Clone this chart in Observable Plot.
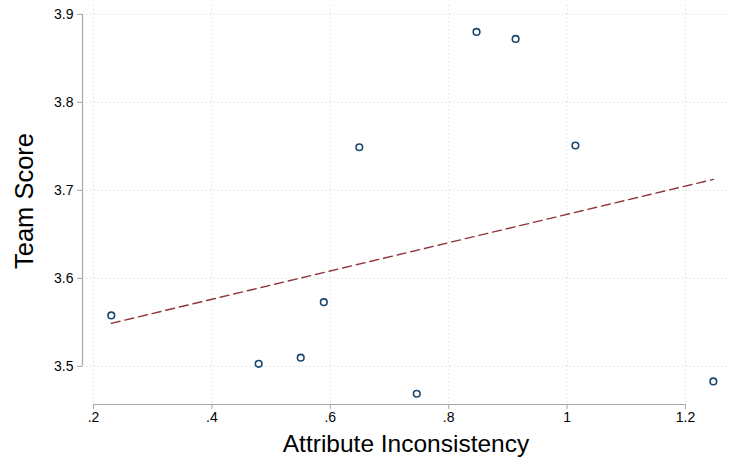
<!DOCTYPE html>
<html>
<head>
<meta charset="utf-8">
<script src="https://cdn.jsdelivr.net/npm/d3@7"></script>
<script src="https://cdn.jsdelivr.net/npm/@observablehq/plot@0.6"></script>
<style>
  html, body { margin: 0; padding: 0; background: #fff; }
  #chart svg { display: block; }
</style>
</head>
<body>
<div id="chart"></div>
<script>
// Data
const inconsistency = [0.230, 0.479, 0.550, 0.589, 0.649, 0.746, 0.847, 0.913, 1.014, 1.247];
const teamScore     = [3.558, 3.503, 3.510, 3.573, 3.749, 3.469, 3.880, 3.872, 3.751, 3.483];

// Fitted line endpoints (as drawn)
const fitX = [0.230, 1.247];
const fitY = [3.549, 3.7125];

// Ticks and labels
const xTicks = [0.2, 0.4, 0.6, 0.8, 1.0, 1.2];
const xTickLabels = [".2", ".4", ".6", ".8", "1", "1.2"];
const yTicks = [3.5, 3.6, 3.7, 3.8, 3.9];
const yTickLabels = ["3.5", "3.6", "3.7", "3.8", "3.9"];

const xTitle = "Attribute Inconsistency";
const yTitle = "Team Score";

const points = inconsistency.map((x, i) => ({x, y: teamScore[i]}));
const fit = fitX.map((x, i) => ({x, y: fitY[i]}));

const xDomain = [0.1814, 1.2743];
const yDomain = [3.4568, 3.910];

const gridColor = "#d4d4d4";
const axisColor = "#a8a8a8";

const chart = Plot.plot({
  width: 733,
  height: 464,
  marginLeft: 82,
  marginRight: 4,
  marginTop: 5,
  marginBottom: 60,
  style: {fontFamily: "'Liberation Sans', Arial, Helvetica, sans-serif", background: "#fff", color: "#000"},
  x: {domain: xDomain},
  y: {domain: yDomain},
  marks: [
    Plot.gridY(yTicks, {stroke: gridColor, strokeOpacity: 1, strokeDasharray: "1,3"}),
    Plot.gridX(xTicks, {stroke: gridColor, strokeOpacity: 1, strokeDasharray: "1,3"}),
    Plot.ruleX([xDomain[0]], {y1: yTicks[0], y2: yTicks[yTicks.length - 1], stroke: axisColor, strokeWidth: 1.2}),
    Plot.ruleY([yDomain[0]], {x1: xTicks[0], x2: xTicks[xTicks.length - 1], stroke: axisColor, strokeWidth: 1.2}),
    Plot.axisY(yTicks, {
      tickFormat: (d, i) => yTickLabels[i],
      tickSize: 5, tickPadding: 4, fontSize: 14,
      stroke: axisColor, fill: "#000", label: null
    }),
    Plot.axisX(xTicks, {
      tickFormat: (d, i) => xTickLabels[i],
      tickSize: 5, tickPadding: 3, fontSize: 14,
      stroke: axisColor, fill: "#000", label: null
    }),
    Plot.line(fit, {x: "x", y: "y", stroke: "#90353b", strokeWidth: 1.4, strokeDasharray: "9,5"}),
    Plot.dot(points, {x: "x", y: "y", r: 3.3, stroke: "#1a476f", strokeWidth: 1.6, fill: "none"}),
    Plot.text([xTitle], {frameAnchor: "bottom", dy: 47, fontSize: 24.5, text: d => d, fill: "#000"}),
    Plot.text([yTitle], {frameAnchor: "left", textAnchor: "middle", rotate: -90, dx: -58, dy: -4, fontSize: 25.5, text: d => d, fill: "#000"})
  ]
});
document.getElementById("chart").appendChild(chart);
</script>
</body>
</html>
